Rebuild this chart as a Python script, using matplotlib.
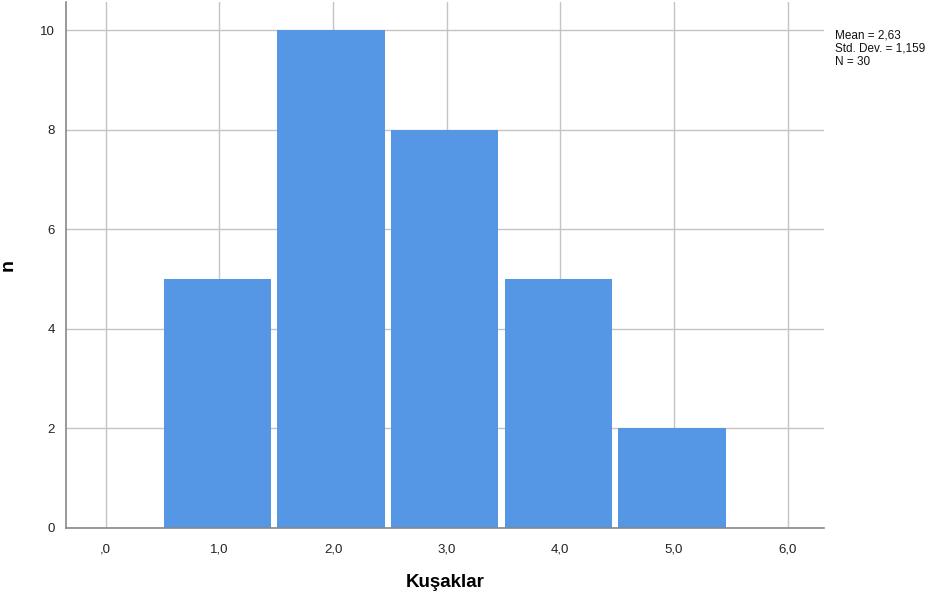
import matplotlib
matplotlib.use("Agg")
import matplotlib.pyplot as plt

plt.rcParams["font.family"] = ["Liberation Sans", "DejaVu Sans"]

# histogram counts per generation group
groups = [1, 2, 3, 4, 5]
counts = [5, 10, 8, 5, 2]
xticks = [0, 1, 2, 3, 4, 5, 6]
xticklabels = [",0", "1,0", "2,0", "3,0", "4,0", "5,0", "6,0"]
yticks = [0, 2, 4, 6, 8, 10]
stats_text = "Mean = 2,63\nStd. Dev. = 1,159\nN = 30"

fig = plt.figure(figsize=(9.48, 5.97), dpi=100)
ax = fig.add_axes([0.0696, 0.1156, 0.7996, 0.8804])

ax.bar([g - 0.49 for g in groups], counts, width=0.945, align="edge",
       color="#5596e5", zorder=2)

ax.set_xlim(-0.35, 6.32)
ax.set_ylim(0, 10.56)
ax.set_xticks(xticks)
ax.set_xticklabels(xticklabels)
ax.set_yticks(yticks)
ax.tick_params(length=0, labelsize=9.5, colors="#222222", pad=11)
ax.tick_params(axis="y", pad=8)

ax.grid(True, color="#c4c4c4", linewidth=1, zorder=0)
ax.set_axisbelow(True)

for s in ["top", "right"]:
    ax.spines[s].set_visible(False)
for s in ["left", "bottom"]:
    ax.spines[s].set_color("#888888")
    ax.spines[s].set_linewidth(1.2)

ax.set_xlabel("Kuşaklar", fontsize=13.5, fontweight="bold")
ax.set_ylabel("n", fontsize=14, fontweight="bold")
ax.xaxis.set_label_coords(0.5, -0.087)
ax.yaxis.set_label_coords(-0.065, 0.5)

fig.text(0.881, 0.95, stats_text, fontsize=8.5, va="top", ha="left",
         color="#111111", linespacing=1.12)

fig.savefig("out.png", dpi=100)
